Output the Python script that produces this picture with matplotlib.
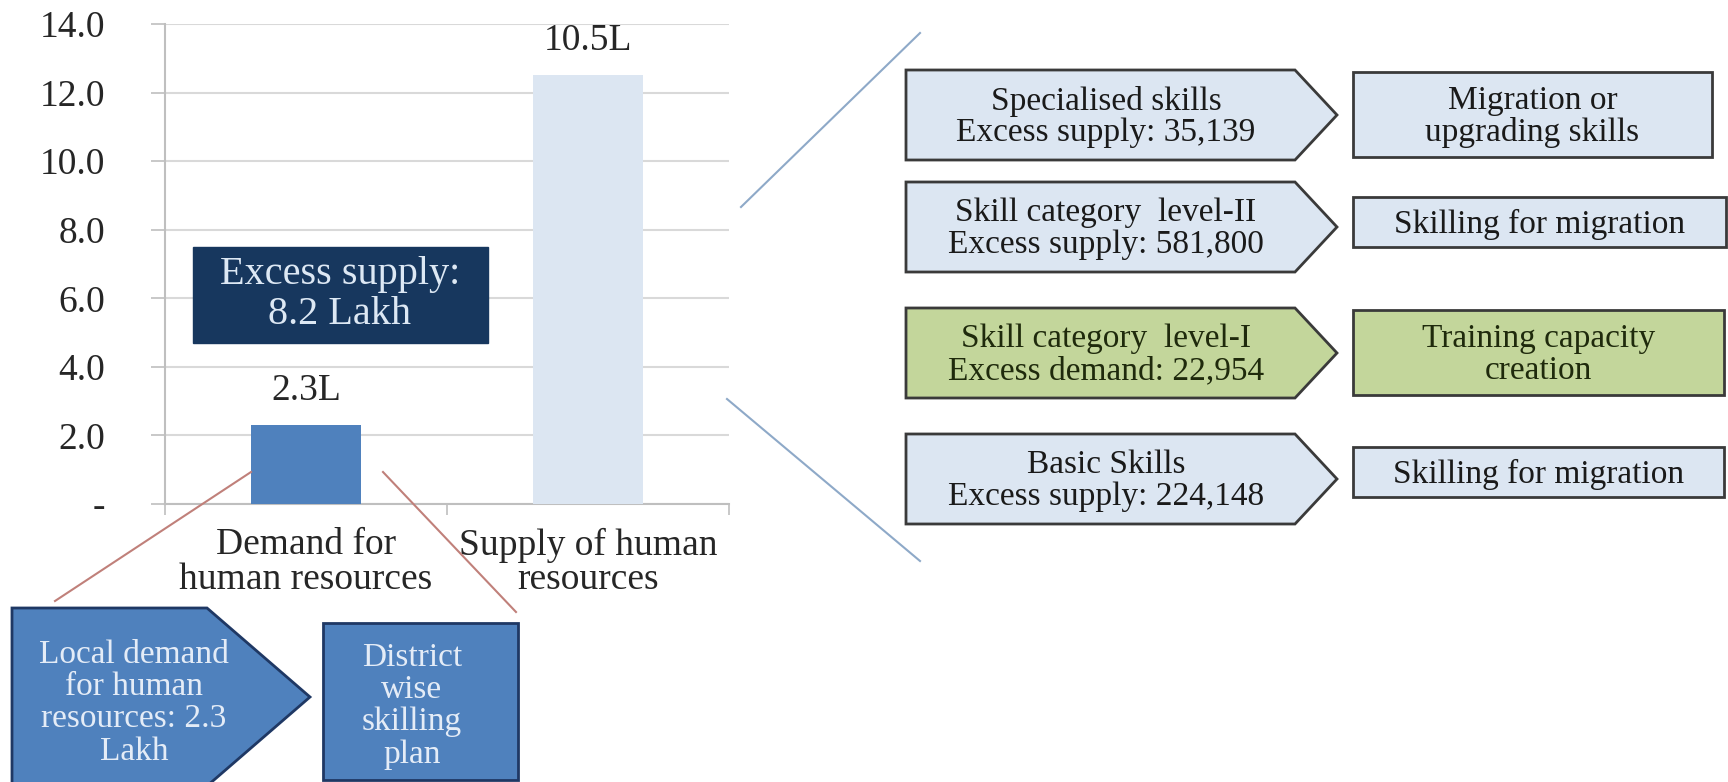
import matplotlib
matplotlib.use("Agg")
import matplotlib.pyplot as plt
from matplotlib.patches import Polygon, Rectangle

plt.rcParams['font.family'] = ['Liberation Serif', 'DejaVu Serif']

# data
categories = ["Demand for\nhuman resources", "Supply of human\nresources"]
bar_heights = [2.3, 12.5]
bar_labels = ["2.3L", "10.5L"]
yticks = [0, 2, 4, 6, 8, 10, 12, 14]
gap_note = "Excess supply:\n8.2 Lakh"

skill_names = ["Specialised skills", "Skill category  level-II",
               "Skill category  level-I", "Basic Skills"]
skill_gaps = ["Excess supply: 35,139", "Excess supply: 581,800",
              "Excess demand: 22,954", "Excess supply: 224,148"]
skill_actions = ["Migration or\nupgrading skills", "Skilling for migration",
                 "Training capacity\ncreation", "Skilling for migration"]
skill_is_demand = [False, False, True, False]

local_note = "Local demand\nfor human\nresources: 2.3\nLakh"
local_action = "District\nwise\nskilling\nplan"

W, H = 1728, 782
fig = plt.figure(figsize=(W / 100, H / 100), dpi=100)

# bar chart
ax = fig.add_axes([165 / W, 1 - 504 / H, 564 / W, 480 / H])
x = list(range(len(categories)))
ax.bar(x, bar_heights, width=0.39, color=["#4f81bd", "#dce6f2"], zorder=3)
for xi, h, lab in zip(x, bar_heights, bar_labels):
    ax.text(xi, h + 0.5, lab, ha="center", va="bottom", fontsize=27, color="#262626")
ax.set_xlim(-0.5, 1.5)
ax.set_ylim(0, 14)
ax.set_yticks(yticks)
ax.set_yticklabels(["-" if v == 0 else f"{v:.1f}" for v in yticks], fontsize=27, color="#262626")
ax.set_xticks(x)
ax.set_xticklabels(categories, fontsize=27, color="#262626", linespacing=1.0)
ax.set_xticks([-0.5, 0.5, 1.5], minor=True)
ax.tick_params(axis="x", which="major", length=0, pad=17)
ax.tick_params(axis="x", which="minor", length=8, color="#bfbfbf", width=1.2)
ax.tick_params(axis="y", length=10, color="#bfbfbf", width=1.2, pad=33)
ax.grid(axis="y", color="#d9d9d9", lw=1.5, zorder=0)
for s in ["top", "right"]:
    ax.spines[s].set_visible(False)
for s in ["left", "bottom"]:
    ax.spines[s].set_color("#bfbfbf")
    ax.spines[s].set_linewidth(1.5)

ax.add_patch(Rectangle((-0.40, 4.7), 1.045, 2.8, color="#17375e", zorder=4))
ax.text(0.12, 6.1, gap_note, ha="center", va="center", fontsize=29,
        color="#dde8f4", zorder=5, linespacing=1.1)

# overlay in pixel coordinates
ov = fig.add_axes([0, 0, 1, 1], zorder=5)
ov.set_xlim(0, W)
ov.set_ylim(H, 0)
ov.axis("off")
ov.patch.set_alpha(0)

# connector lines
ov.plot([251, 55], [472, 601], color="#c0807a", lw=1.5)
ov.plot([383, 516], [472, 612], color="#c0807a", lw=1.5)
ov.plot([741, 920], [207, 33], color="#8ea9c8", lw=1.5)
ov.plot([727, 920], [399, 561], color="#8ea9c8", lw=1.5)

# right side skill rows
arrow_tops = [70, 182, 308, 434]
arrow_h = 90
box_spans = [(72, 157), (197, 247), (310, 395), (447, 497)]
box_right = [1712, 1726, 1724, 1724]
for i, name in enumerate(skill_names):
    fill = "#c3d69b" if skill_is_demand[i] else "#dce6f2"
    tcol = "#1f2a0c" if skill_is_demand[i] else "#1a1a1a"
    t = arrow_tops[i]
    m = t + arrow_h / 2
    pent = Polygon([(906, t), (1295, t), (1337, m), (1295, t + arrow_h), (906, t + arrow_h)],
                   closed=True, fc=fill, ec="#3a3a3a", lw=2)
    ov.add_patch(pent)
    ov.text(1106, m + 2, name + "\n" + skill_gaps[i], ha="center", va="center",
            fontsize=24, color=tcol, linespacing=1.05)
    b0, b1 = box_spans[i]
    ov.add_patch(Rectangle((1353, b0), box_right[i] - 1353, b1 - b0,
                           fc=fill, ec="#3a3a3a", lw=2))
    ov.text((1353 + box_right[i]) / 2, (b0 + b1) / 2 + 2, skill_actions[i],
            ha="center", va="center", fontsize=24, color=tcol, linespacing=1.05)

# bottom left demand boxes
ov.add_patch(Polygon([(12, 608), (207, 608), (310, 697), (207, 786), (12, 786)],
                     closed=True, fc="#4f81bd", ec="#1f3864", lw=2, clip_on=False))
ov.text(134, 703, local_note, ha="center", va="center", fontsize=24,
        color="#e4ecf7", linespacing=1.08)
ov.add_patch(Rectangle((323, 623), 195, 157, fc="#4f81bd", ec="#1f3864", lw=2))
ov.text(412, 706, local_action, ha="center", va="center", fontsize=24,
        color="#e4ecf7", linespacing=1.08)

fig.savefig("out.png", dpi=100)
